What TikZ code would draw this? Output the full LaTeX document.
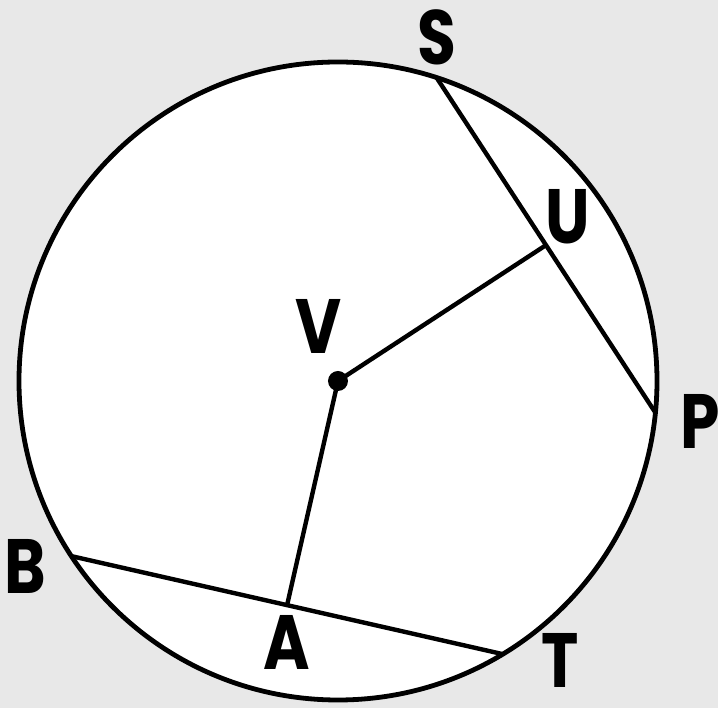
\documentclass[tikz,border=0pt]{standalone}
\usepackage{fontspec}
\newfontfamily\labfont{Poppins}[FakeStretch=0.82]
\usetikzlibrary{calc}
\definecolor{bg}{RGB}{232,232,232}
\tikzset{
  lab/.style={font=\labfont\bfseries\fontsize{77}{77}\selectfont, inner sep=0pt, anchor=center},
  seg/.style={line width=4.4pt, line cap=butt},
}
\begin{document}
\begin{tikzpicture}[x=1pt,y=1pt]
\fill[bg] (-338,-327) rectangle (380,381);
\useasboundingbox (-338,-327) rectangle (380,381);
\coordinate (O) at (0,0);
\draw[line width=4.8pt, fill=white] (O) circle (319);
\coordinate (S) at (72:319);
\coordinate (P) at (-5.7:319);
\coordinate (B) at (213.3:319);
\coordinate (T) at (-58.9:319);
\coordinate (U) at ($(S)!0.5!(P)$);
\coordinate (A) at ($(B)!0.5!(T)$);
\draw[seg] (S) -- (P);
\draw[seg] (B) -- (T);
\draw[seg] (O) -- (U);
\draw[seg] (O) -- (A);
\fill (O) circle (10);
\node[lab] (lS) at (99,344) {S};
\node[lab] (lU) at (230,164) {U};
\node[lab] (lV) at (-19,55) {V};
\node[lab] (lP) at (362,-40) {P};
\node[lab] (lB) at (-313,-185) {B};
\node[lab] (lA) at (-51,-261) {A};
\node[lab] (lT) at (222,-279) {T};
\end{tikzpicture}
\end{document}
